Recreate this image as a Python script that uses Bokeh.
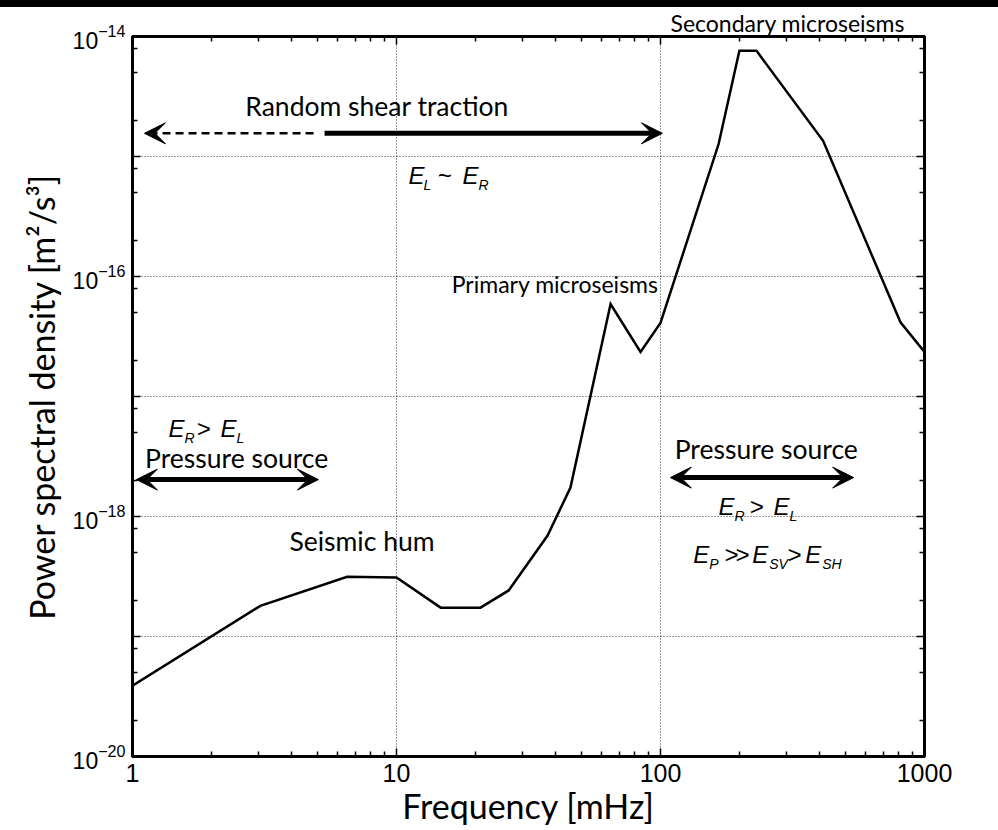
from bokeh.plotting import figure
from bokeh.models import (LogAxis, FixedTicker, Arrow, VeeHead, Label, Div)
from bokeh.layouts import column
from bokeh.embed import file_html
from bokeh.resources import INLINE

# Ambient seismic noise spectrum: frequency [mHz] vs power spectral density [m^2/s^3]
freq_mhz = [1, 3.05, 6.5, 10, 14.7, 20.8, 26.6, 37.3, 45.6, 64.7, 84, 100,
            166, 199, 231, 413, 811, 1000]
psd = [3.9e-20, 1.8e-19, 3.15e-19, 3.1e-19, 1.74e-19, 1.74e-19, 2.42e-19,
       6.9e-19, 1.74e-18, 5.9e-17, 2.35e-17, 4.1e-17,
       1.27e-15, 7.6e-15, 7.6e-15, 1.35e-15, 4.15e-17, 2.35e-17]

# Axis ticks
x_major = [1.0, 10.0, 100.0, 1000.0]
x_tick_labels = ["1", "10", "100", "1000"]
x_minor = [k * m for m in (1.0, 10.0, 100.0) for k in range(2, 10)]
y_major = [1e-20, 1e-19, 1e-18, 1e-17, 1e-16, 1e-15, 1e-14]
y_unlabelled = [1e-19, 1e-17, 1e-15]
y_minor = [k * m for m in (1e-20, 1e-19, 1e-18, 1e-17, 1e-16, 1e-15) for k in (2, 5, 8)]

# Regime annotations: (text, frequency, psd level, alignment, font size px)
region_texts = [
    ("Random shear traction", 8.44, 2.28e-15, "center", 26.5),
    ("Primary microseisms", 98.3, 7.64e-17, "right", 23),
    ("Seismic hum", 7.4, 5.41e-19, "center", 26.5),
    ("Pressure source", 2.48, 2.66e-18, "center", 26.5),
    ("Pressure source", 251.5, 3.16e-18, "center", 26.5),
]
peak_title = "Secondary microseisms"

# Energy-partition relations: anchor (freq, psd) and pieces (text, x offset px, subscript?)
energy_relations = [
    ((11.1, 6.1e-16), [("E", 0, False), ("L", 15, True), ("~", 29, False),
                       ("E", 54, False), ("R", 70, True)]),
    ((1.37, 4.8e-18), [("E", 0, False), ("R", 16, True), (">", 28, False),
                       ("E", 52, False), ("L", 68, True)]),
    ((166.0, 1.07e-18), [("E", 0, False), ("R", 16, True), (">", 31, False),
                         ("E", 55, False), ("L", 71, True)]),
    ((133.0, 4.3e-19), [("E", 0, False), ("P", 16, True), (">", 31, False),
                        (">", 42, False), ("E", 59, False), ("SV", 76, True),
                        (">", 94, False), ("E", 112, False), ("SH", 129, True)]),
]

# Frequency bands: (f_start, f_end, level, heads at both ends?, dashed?)
shear_level = 1.56e-15
bands = [
    (4.85, 1.11, shear_level, False, True),
    (5.34, 101.7, shear_level, False, False),
    (1.035, 5.06, 2.03e-18, True, False),
    (109.0, 539.0, 2.11e-18, True, False),
]

# Bokeh's alphabetic baseline sits slightly low; lift text by this fraction of its size
BASELINE_LIFT = 0.27

p = figure(width=998, height=823, x_axis_type="log", y_axis_type="log",
           x_range=(1, 1000), y_range=(1e-20, 1e-14),
           output_backend="svg", toolbar_location=None,
           min_border_left=132, min_border_right=74,
           min_border_top=29, min_border_bottom=74,
           background_fill_color="white", border_fill_color="white")
p.outline_line_color = "black"
p.outline_line_width = 3

# Peak name sits above the plotting frame, so it is carried by the title
p.title.text = peak_title
p.title.align = "left"
p.title.offset = 538
p.title.vertical_align = "top"
p.title.standoff = -4
p.title.text_font = "Lato"
p.title.text_font_size = "23px"
p.title.text_font_style = "normal"
p.title.text_color = "black"

x_ticker = FixedTicker(ticks=x_major, minor_ticks=x_minor)
y_ticker = FixedTicker(ticks=y_major, minor_ticks=y_minor)


def style_axis(ax, ticker, font_size, show_labels=True):
    ax.ticker = ticker
    ax.axis_line_width = 3
    ax.axis_line_color = "black"
    ax.major_tick_in = 8
    ax.major_tick_out = 0
    ax.minor_tick_in = 5
    ax.minor_tick_out = 0
    ax.major_tick_line_width = 1.5
    ax.minor_tick_line_width = 1.5
    ax.major_tick_line_color = "black"
    ax.minor_tick_line_color = "black"
    ax.major_label_text_font = "Liberation Sans"
    ax.major_label_text_font_size = font_size
    ax.major_label_text_color = "black" if show_labels else None
    if not show_labels:
        ax.major_label_standoff = 0


xax = p.xaxis[0]
yax = p.yaxis[0]
style_axis(xax, x_ticker, "25px")
style_axis(yax, y_ticker, "23px")
xax.major_label_standoff = 7
yax.major_label_standoff = 7
xax.major_label_overrides = dict(zip(x_major, x_tick_labels))
yax.major_label_overrides = {v: " " for v in y_unlabelled}

xax.axis_label = "Frequency [mHz]"
yax.axis_label = "Power spectral density [m²/s³]"
for ax in (xax, yax):
    ax.axis_label_text_font = "Lato"
    ax.axis_label_text_font_size = "34px"
    ax.axis_label_text_font_style = "normal"
    ax.axis_label_text_color = "black"
xax.axis_label_standoff = 0
yax.axis_label_standoff = 8

top_ax = LogAxis()
style_axis(top_ax, x_ticker, "1px", show_labels=False)
p.add_layout(top_ax, "above")
right_ax = LogAxis()
style_axis(right_ax, y_ticker, "1px", show_labels=False)
p.add_layout(right_ax, "right")

for g in (p.xgrid[0], p.ygrid[0]):
    g.grid_line_color = "#333333"
    g.grid_line_dash = "1 2"
    g.grid_line_width = 1
    g.grid_line_alpha = 1.0

# Spectrum curve
p.line(freq_mhz, psd, line_color="black", line_width=2.5, line_join="miter")


def vee():
    return VeeHead(size=21, fill_color="black", line_color="black", line_width=1)


# Band arrows
for f0, f1, lvl, both, dashed in bands:
    p.add_layout(Arrow(x_start=f0, y_start=lvl, x_end=f1, y_end=lvl,
                       start=vee() if both else None, end=vee(),
                       line_color="black",
                       line_width=2.5 if dashed else 5,
                       line_dash="8 5" if dashed else "solid"))

# Region labels
for text, fx, lvl, align, size in region_texts:
    p.add_layout(Label(x=fx, y=lvl, y_offset=BASELINE_LIFT * size,
                       text=text, text_font="Lato",
                       text_font_size=f"{size}px", text_align=align,
                       text_baseline="alphabetic", text_color="black"))

# Energy relations with subscripts
for (fx, lvl), pieces in energy_relations:
    for text, dx, sub in pieces:
        size = 14 if sub else 24
        drop = 7 if sub else 0
        p.add_layout(Label(x=fx, y=lvl, x_offset=dx,
                           y_offset=BASELINE_LIFT * size - drop,
                           text=text, text_font="Liberation Sans",
                           text_font_style="italic",
                           text_font_size=f"{size}px",
                           text_align="left", text_baseline="alphabetic",
                           text_color="black"))

band = Div(text="", width=998, height=7, margin=0,
           styles={"background-color": "black"})
layout = column(band, p, spacing=0)

open("out.html", "w").write(file_html(layout, INLINE))
